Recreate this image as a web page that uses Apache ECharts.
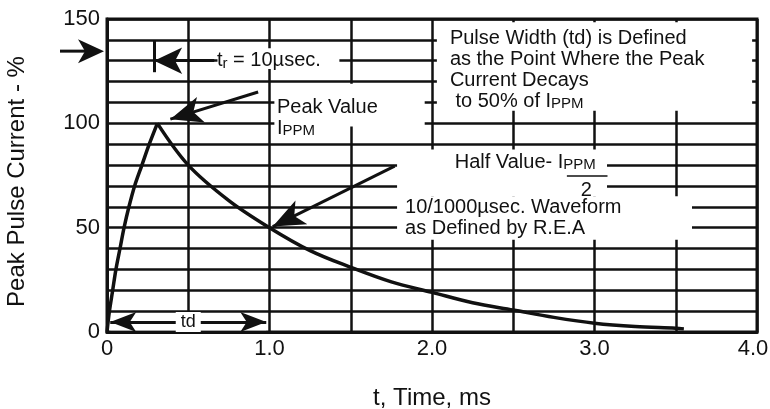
<!DOCTYPE html>
<html>
<head>
<meta charset="utf-8">
<title>Pulse waveform</title>
<script src="https://cdn.jsdelivr.net/npm/echarts@6/dist/echarts.min.js"></script>
<style>
  html, body { margin: 0; padding: 0; background: #fff; }
  #main { width: 770px; height: 409px; }
</style>
</head>
<body>
<div id="main"></div>
<script>
// waveform: t in ms, current in % of Ippm
var timeMs = [0, 0.015, 0.035, 0.055, 0.08, 0.105, 0.135, 0.17, 0.215, 0.26, 0.31,
  0.5, 0.75, 1.0, 1.25, 1.5, 1.75, 2.0, 2.25, 2.5, 2.75, 3.0, 3.25, 3.5, 3.55];
var currentPct = [0, 10, 20, 30, 40, 50, 60, 70, 80, 90, 100,
  80, 63, 50, 39, 31, 24, 19, 14, 10.5, 7, 4.2, 2.6, 1.8, 1.5];

var xTickValues = [0, 1, 2, 3, 4];
var xTickLabels = ['0', '1.0', '2.0', '3.0', '4.0'];
var yTickValues = [0, 50, 100, 150];
var yTickLabels = ['0', '50', '100', '150'];

var FONT = '"Liberation Sans", Arial, sans-serif';
var INK = '#111';

var curve = [];
var peakAt = 0;
for (var i = 0; i < timeMs.length; i++) {
  curve.push([timeMs[i], currentPct[i]]);
  if (currentPct[i] > currentPct[peakAt]) peakAt = i;
}
// rise and decay drawn separately so the peak keeps its corner
var rise = curve.slice(0, peakAt + 1);
var decay = curve.slice(peakAt);

function pickLabel(values, labels, nudgeLast) {
  return function (v) {
    var k = values.indexOf(v);
    if (k < 0) return '';
    // last x label nudged in so it is not cut at the edge
    return (nudgeLast && k === values.length - 1) ? '{last|' + labels[k] + '}' : labels[k];
  };
}

var chart = echarts.init(document.getElementById('main'));

var curveStyle = { color: INK, width: 3.5 };

var option = {
  animation: false,
  backgroundColor: '#fff',
  grid: {
    left: 107, right: 13, top: 19, bottom: 77,
    show: true, borderColor: INK, borderWidth: 3,
    outerBoundsMode: 'none'
  },
  xAxis: {
    type: 'value', min: 0, max: 4, interval: 0.5,
    name: 't, Time, ms', nameLocation: 'middle', nameGap: 54,
    nameTextStyle: { fontSize: 24, fontFamily: FONT, color: INK },
    axisLine: { show: true, lineStyle: { color: INK, width: 3 } },
    axisTick: { show: false },
    axisLabel: {
      formatter: pickLabel(xTickValues, xTickLabels, true), fontSize: 22, fontFamily: FONT, color: INK, margin: 6,
      rich: { last: { fontSize: 22, fontFamily: FONT, color: INK, padding: [0, 8, 0, 0] } }
    },
    splitLine: { show: true, lineStyle: { color: INK, width: 2.5 } }
  },
  yAxis: {
    type: 'value', min: 0, max: 150, interval: 10,
    name: 'Peak Pulse Current - %', nameLocation: 'middle', nameGap: 78, nameRotate: 90,
    nameTextStyle: { fontSize: 24, fontFamily: FONT, color: INK, padding: [0, 0, 0, -12] },
    axisLine: { show: true, lineStyle: { color: INK, width: 3 } },
    axisTick: { show: false },
    axisLabel: { formatter: pickLabel(yTickValues, yTickLabels, false), fontSize: 22, fontFamily: FONT, color: INK, margin: 7 },
    splitLine: { show: true, lineStyle: { color: INK, width: 2.5 } }
  },
  series: [
    {
      // white patches that blank the grid behind the notes
      name: 'blank', type: 'line', data: [], z: 1, silent: true,
      markArea: {
        silent: true,
        itemStyle: { color: '#fff', opacity: 1 },
        data: [
          [{ coord: [2.03, 148.5] }, { coord: [3.97, 106] }],
          [{ coord: [1.03, 119] }, { coord: [1.955, 98.5] }],
          [{ coord: [0.68, 136] }, { coord: [1.43, 126] }],
          [{ coord: [1.785, 87.5] }, { coord: [3.077, 65] }],
          [{ coord: [1.785, 65] }, { coord: [3.6, 44.2] }],
          [{ coord: [0.02, 0.8] }, { coord: [0.98, 8.6] }]
        ]
      }
    },
    {
      name: 'rise', type: 'line', data: rise, z: 3,
      showSymbol: false, silent: true, smooth: 0.35,
      lineStyle: curveStyle
    },
    {
      name: 'decay', type: 'line', data: decay, z: 3,
      showSymbol: false, silent: true, smooth: 0.35,
      lineStyle: curveStyle,
      markLine: {
        silent: true,
        symbol: 'none',
        label: { show: false },
        lineStyle: { color: INK, width: 3, type: 'solid' },
        emphasis: { disabled: true },
        data: [
          // tr arrow and its stop bar
          [{ coord: [0.66, 130], symbol: 'none' }, { coord: [0.29, 130], symbol: 'arrow', symbolSize: [20, 28] }],
          [{ coord: [0.29, 139.5], symbol: 'none' }, { coord: [0.29, 124.5], symbol: 'none' }],
          // peak value pointer
          [{ coord: [0.93, 115], symbol: 'none' }, { coord: [0.39, 102], symbol: 'arrow', symbolSize: [20, 32] }],
          // half value pointer
          [{ coord: [1.77, 79.5], symbol: 'none' }, { coord: [1.02, 50.5], symbol: 'arrow', symbolSize: [20, 32] }],
          // td span
          [{ coord: [0.02, 4.8], symbol: 'arrow', symbolSize: [15, 26] }, { coord: [0.98, 4.8], symbol: 'arrow', symbolSize: [15, 26] }],
          // fraction bar of Ippm / 2
          [{ coord: [2.83, 75], symbol: 'none', lineStyle: { width: 1.5 } }, { coord: [3.08, 75], symbol: 'none' }]
        ]
      }
    }
  ]
};
chart.setOption(option);

// notes are anchored in data units, then turned into pixels
function px(t, v) { return chart.convertToPixel({ gridIndex: 0 }, [t, v]); }

var rich = {
  n: { fontSize: 20, fontFamily: FONT, fill: INK, lineHeight: 21 },
  s: { fontSize: 15, fontFamily: FONT, fill: INK, lineHeight: 11, verticalAlign: 'bottom' }
};

function note(t, v, text, vAlign, lh) {
  var p = px(t, v);
  return {
    type: 'text', x: p[0], y: p[1], z: 10, silent: true,
    style: {
      text: text, rich: rich, fill: INK, fontSize: 20, fontFamily: FONT,
      align: 'left', verticalAlign: vAlign || 'middle', lineHeight: lh || 21
    }
  };
}

var tdPos = px(0.5, 4.8);
var axisPt = px(0, 134.6);

chart.setOption({
  graphic: [
    note(0.677, 130, '{n|t}{s|r}{n| = 10µsec.}'),
    note(1.046, 112.7, '{n|Peak Value}\n{n|I}{s|PPM}', 'top'),
    note(2.11, 145.9, '{n|Pulse Width (td) is Defined}\n{n|as the Point Where the Peak}\n{n|Current Decays}\n{n| to 50% of I}{s|PPM}', 'top'),
    note(2.14, 81.3, '{n|Half Value- I}{s|PPM}'),
    note(2.915, 67.8, '{n|2}'),
    note(1.834, 64.7, '{n|10/1000µsec. Waveform}\n{n|as Defined by R.E.A}', 'top', 19.5),
    {
      type: 'text', x: tdPos[0], y: tdPos[1], z: 10, silent: true,
      style: {
        text: 'td', fill: INK, fontSize: 18, fontFamily: FONT,
        align: 'center', verticalAlign: 'middle',
        backgroundColor: '#fff', padding: [1, 5]
      }
    },
    // arrow outside the axis pointing at it
    {
      type: 'line', z: 10, silent: true,
      shape: { x1: axisPt[0] - 47, y1: axisPt[1], x2: axisPt[0] - 20, y2: axisPt[1] },
      style: { stroke: INK, lineWidth: 3 }
    },
    {
      type: 'polygon', z: 10, silent: true,
      shape: { points: [[axisPt[0] - 3, axisPt[1]], [axisPt[0] - 29, axisPt[1] - 12], [axisPt[0] - 22, axisPt[1]], [axisPt[0] - 29, axisPt[1] + 12]] },
      style: { fill: INK }
    }
  ]
});
</script>
</body>
</html>
